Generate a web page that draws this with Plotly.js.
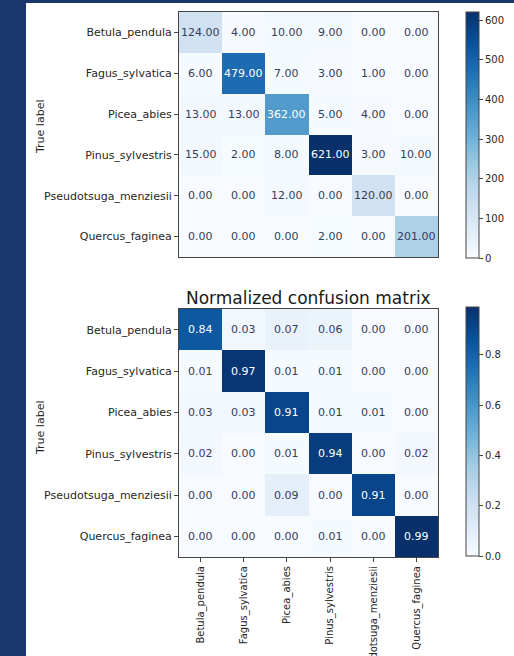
<!DOCTYPE html>
<html>
<head>
<meta charset="utf-8">
<script src="https://cdn.plot.ly/plotly-3.0.1.min.js"></script>
<style>
  html, body { margin: 0; padding: 0; width: 514px; height: 656px; overflow: hidden; background: #19376a; }
  #chart { position: absolute; left: 26px; top: 3px; width: 488px; height: 653px; background: #ffffff; overflow: hidden; }
</style>
</head>
<body>
<div id="chart"></div>
<script>
// Species classes (rows = true label, columns = predicted label)
const classes = ["Betula_pendula", "Fagus_sylvatica", "Picea_abies", "Pinus_sylvestris", "Pseudotsuga_menziesii", "Quercus_faginea"];

// Raw confusion counts
const counts = [
  [124, 4, 10, 9, 0, 0],
  [6, 479, 7, 3, 1, 0],
  [13, 13, 362, 5, 4, 0],
  [15, 2, 8, 621, 3, 10],
  [0, 0, 12, 0, 120, 0],
  [0, 0, 0, 2, 0, 201]
];

// Row-normalized confusion values
const normalized = [
  [0.84, 0.03, 0.07, 0.06, 0.00, 0.00],
  [0.01, 0.97, 0.01, 0.01, 0.00, 0.00],
  [0.03, 0.03, 0.91, 0.01, 0.01, 0.00],
  [0.02, 0.00, 0.01, 0.94, 0.00, 0.02],
  [0.00, 0.00, 0.09, 0.00, 0.91, 0.00],
  [0.00, 0.00, 0.00, 0.01, 0.00, 0.99]
];

const countTicks = [0, 100, 200, 300, 400, 500, 600];
const normTicks = [0, 0.2, 0.4, 0.6, 0.8];

// matplotlib "Blues" colormap
const blues = [
  [0.0, "#f7fbff"], [0.125, "#deebf7"], [0.25, "#c6dbef"], [0.375, "#9ecae1"],
  [0.5, "#6baed6"], [0.625, "#4292c6"], [0.75, "#2171b5"], [0.875, "#08519c"], [1.0, "#08306b"]
];

const FONT = "DejaVu Sans, sans-serif";
const INK = "#262626";
const DARK_TEXT = "#34405a";
const W = 488, H = 653;

// pixel helpers for the panel (px measured from the top-left of the panel)
const px = v => v / W;
const py = v => 1 - v / H;

function maxOf(m) { return Math.max(...m.map(r => Math.max(...r))); }

function cellLabels(matrix, fmt, xref, yref) {
  const thresh = maxOf(matrix) / 2;
  const out = [];
  matrix.forEach((row, i) => {
    row.forEach((v, j) => {
      out.push({
        x: classes[j], y: classes[i], xref: xref, yref: yref,
        text: fmt(v), showarrow: false,
        font: { family: FONT, size: 11, color: v > thresh ? "#ffffff" : DARK_TEXT }
      });
    });
  });
  return out;
}

const countMax = maxOf(counts);
const normMax = maxOf(normalized);

const traces = [
  {
    type: "heatmap", x: classes, y: classes, z: counts,
    xaxis: "x", yaxis: "y",
    colorscale: blues, zmin: 0, zmax: countMax,
    colorbar: {
      x: px(440), xanchor: "left", xref: "paper", xpad: 0,
      y: py(9), yanchor: "top", ypad: 0,
      len: 246, lenmode: "pixels", thickness: 13,
      outlinewidth: 1, outlinecolor: "#444",
      tickvals: countTicks, ticks: "outside", ticklen: 4, tickcolor: "#444",
      tickfont: { family: FONT, size: 10, color: INK }
    }
  },
  {
    type: "heatmap", x: classes, y: classes, z: normalized,
    xaxis: "x2", yaxis: "y2",
    colorscale: blues, zmin: 0, zmax: normMax,
    colorbar: {
      x: px(440), xanchor: "left", xref: "paper", xpad: 0,
      y: py(304), yanchor: "top", ypad: 0,
      len: 249, lenmode: "pixels", thickness: 13,
      outlinewidth: 1, outlinecolor: "#444",
      tickvals: normTicks, tickformat: ".1f", ticks: "outside", ticklen: 4, tickcolor: "#444",
      tickfont: { family: FONT, size: 10, color: INK }
    }
  }
];

const frame = {
  showline: true, mirror: true, linecolor: "#444", linewidth: 1,
  showgrid: false, zeroline: false, type: "category", automargin: false
};

const annotations = []
  .concat(cellLabels(counts, v => v.toFixed(2), "x", "y"))
  .concat(cellLabels(normalized, v => v.toFixed(2), "x2", "y2"))
  .concat([
    { text: "True label", xref: "paper", yref: "paper", x: px(14), y: py(124), textangle: -90,
      showarrow: false, xanchor: "center", yanchor: "middle", font: { family: FONT, size: 11, color: INK } },
    { text: "True label", xref: "paper", yref: "paper", x: px(14), y: py(425), textangle: -90,
      showarrow: false, xanchor: "center", yanchor: "middle", font: { family: FONT, size: 11, color: INK } },
    { text: "Normalized confusion matrix", xref: "paper", yref: "paper", x: px(282), y: py(295),
      showarrow: false, xanchor: "center", yanchor: "middle", font: { family: FONT, size: 17, color: "#1a1a1a" } }
  ]);

const layout = {
  width: W, height: H,
  margin: { l: 0, r: 0, t: 0, b: 0, pad: 0 },
  paper_bgcolor: "#ffffff", plot_bgcolor: "#ffffff",
  font: { family: FONT, size: 11, color: INK },
  showlegend: false,
  xaxis: Object.assign({}, frame, {
    domain: [px(153), px(412)], anchor: "y", showticklabels: false, ticks: ""
  }),
  yaxis: Object.assign({}, frame, {
    domain: [py(254), py(9)], anchor: "x", autorange: "reversed",
    ticks: "outside", ticklen: 4, tickcolor: "#444",
    tickfont: { family: FONT, size: 11, color: INK }
  }),
  xaxis2: Object.assign({}, frame, {
    domain: [px(153), px(412)], anchor: "y2", side: "bottom",
    ticks: "outside", ticklen: 4, tickcolor: "#444", tickangle: -90,
    tickfont: { family: FONT, size: 10, color: INK }
  }),
  yaxis2: Object.assign({}, frame, {
    domain: [py(554), py(306)], anchor: "x2", autorange: "reversed",
    ticks: "outside", ticklen: 4, tickcolor: "#444",
    tickfont: { family: FONT, size: 11, color: INK }
  }),
  annotations: annotations
};

Plotly.newPlot("chart", traces, layout, { displayModeBar: false, staticPlot: true });
</script>
</body>
</html>
